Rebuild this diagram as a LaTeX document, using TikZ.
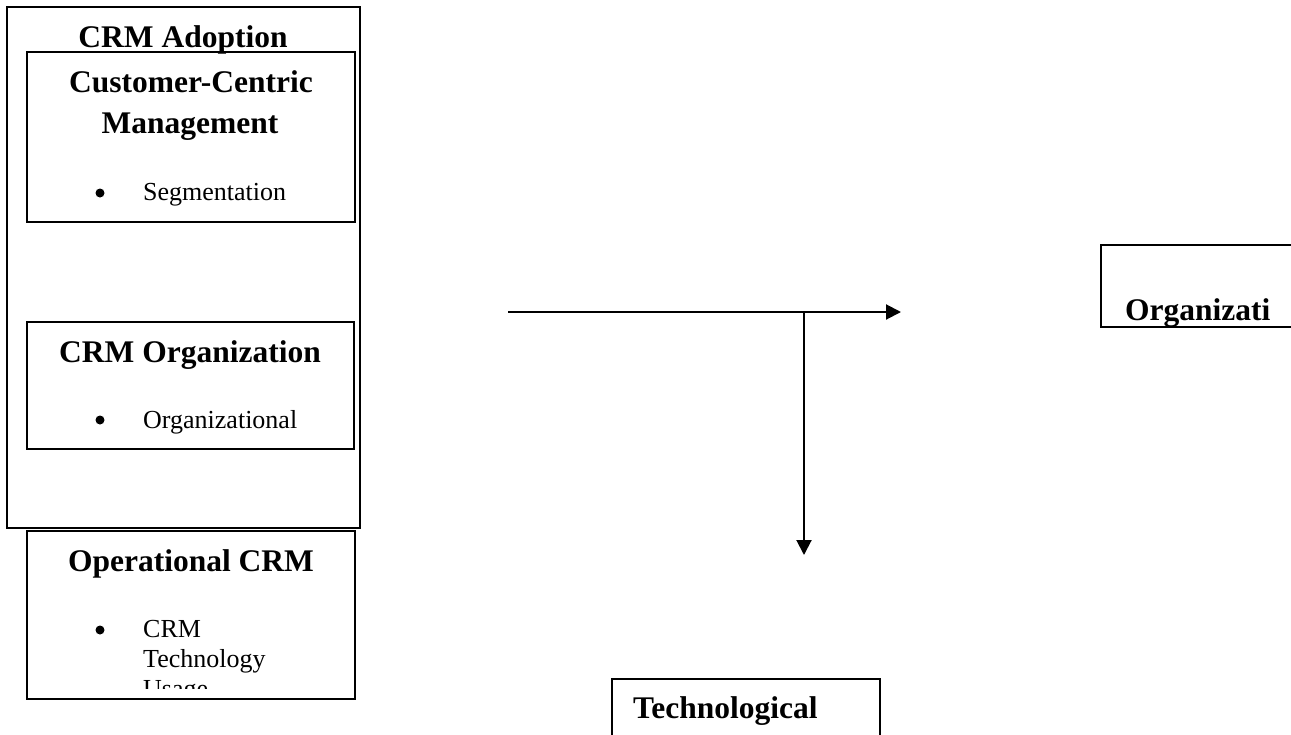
\documentclass[tikz,border=0pt]{standalone}
\usepackage{fontspec}
\setmainfont{Liberation Serif}
\usetikzlibrary{arrows.meta}
\tikzset{
  boxline/.style={draw=black, line width=2pt},
  ttl/.style={font=\fontsize{31.5}{38}\selectfont\bfseries, inner sep=0pt, anchor=base},
  ttlw/.style={font=\fontsize{31.5}{38}\selectfont\bfseries, inner sep=0pt, anchor=base west},
  itm/.style={font=\fontsize{26}{30}\selectfont, inner sep=0pt, anchor=base west},
  bul/.style={circle, fill=black, inner sep=0pt, minimum size=9pt},
  arr/.style={line width=2pt, -{Triangle[length=15pt,width=15pt]}}
}
\begin{document}
\begin{tikzpicture}[x=1pt,y=-1pt]
\useasboundingbox (0,0) rectangle (1291,734);
\clip (0,0) rectangle (1291,734);
% boxes
\draw[boxline] (7,7) rectangle (360,528);
\node[boxline, inner sep=0pt, minimum width=328pt, minimum height=170pt] (ccm) at (191,137) {};
\node[boxline, inner sep=0pt, minimum width=327pt, minimum height=127pt] (org) at (190.5,385.5) {};
\node[boxline, inner sep=0pt, minimum width=328pt, minimum height=168pt] (ops) at (191,615) {};
\node[boxline, inner sep=0pt, minimum width=268pt, minimum height=90pt] (tech) at (746,724) {};
\node[boxline, inner sep=0pt, minimum width=230pt, minimum height=82pt] (orgr) at (1216,286) {};
% texts
\node[ttl] (tadopt) at (183,47) {CRM Adoption};
\node[ttl] (tccm1) at (191,92) {Customer-Centric};
\node[ttl] (tccm2) at (190,133) {Management};
\node[bul] (b1) at (100,193) {};
\node[itm] (i1) at (143,200) {Segmentation};
\node[ttl] (torg) at (190,362) {CRM Organization};
\node[bul] (b2) at (100,420) {};
\node[itm] (i2) at (143,428) {Organizational};
\node[ttl] (tops) at (191,571) {Operational CRM};
\node[bul] (b3) at (100,630) {};
\node[itm] (i3a) at (143,637) {CRM};
\node[itm] (i3b) at (143,667) {Technology};
\begin{scope}
\clip (30,600) rectangle (352,688);
\node[itm] (i3c) at (143,697) {Usage};
\end{scope}
\node[ttlw] (ttech) at (633,718) {Technological};
\node[ttlw] (torgr) at (1125,320) {Organizati};
% arrows
\coordinate (hs) at (508,312);
\coordinate (he) at (901,312);
\coordinate (vs) at (804,312);
\coordinate (ve) at (804,555);
\draw[arr] (hs) -- (he);
\draw[arr] (vs) -- (ve);
\end{tikzpicture}
\end{document}
